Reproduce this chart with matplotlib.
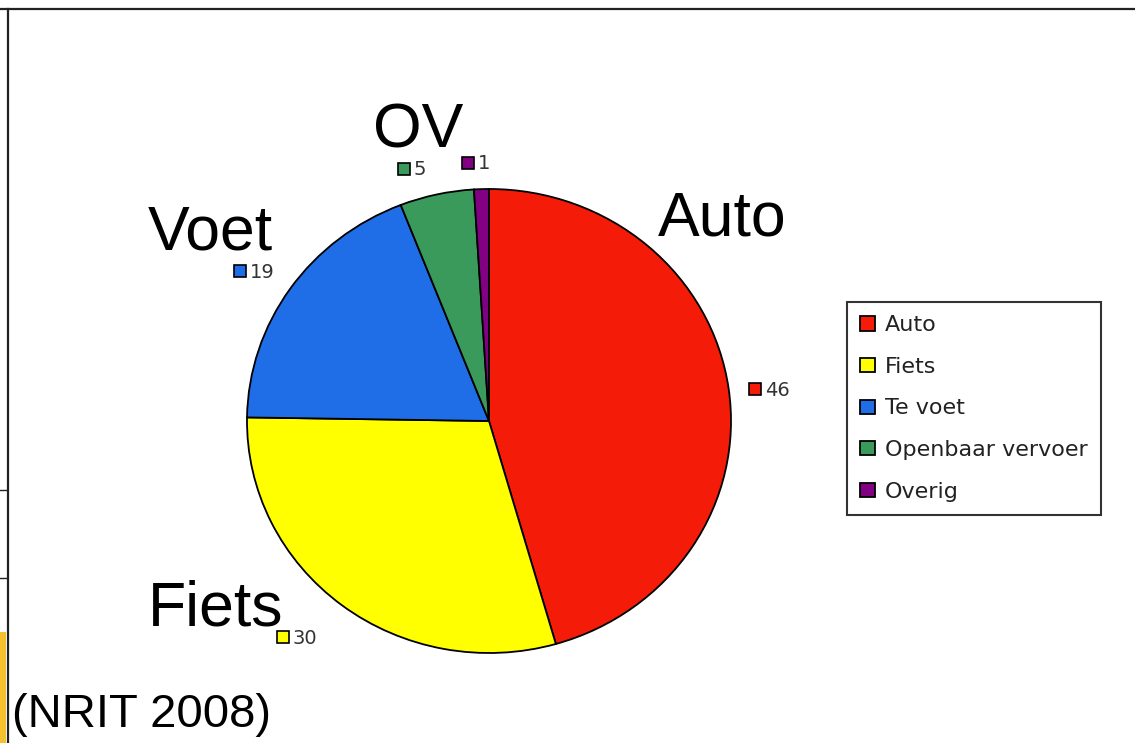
import numpy as np
import matplotlib
matplotlib.use('Agg')
import matplotlib.pyplot as plt
from matplotlib.lines import Line2D
from matplotlib.patches import Rectangle

# data
modes = ['Auto', 'Fiets', 'Te voet', 'Openbaar vervoer', 'Overig']
shares = [46, 30, 19, 5, 1]
colors = ['#f41c08', '#ffff00', '#1f6ee8', '#3a9a5c', '#820082']
big_labels = ['Auto', 'Fiets', 'Voet', 'OV']
source = '(NRIT 2008)'

W, H = 1135, 743
CX, CY = 489, 421      # pie centre in pixels
RX, RY = 242, 232      # pie radii in pixels (slightly squashed, as in the scan)

fig = plt.figure(figsize=(W / 100, H / 100), dpi=100)
fig.patch.set_facecolor('white')
ax = fig.add_axes([0, 0, 1, 1])

wedges, _ = ax.pie(shares, colors=colors, startangle=90, counterclock=False,
                   wedgeprops=dict(edgecolor='black', linewidth=1.3))
ax.set_aspect('auto')
ax.set_xlim(-CX / RX, (W - CX) / RX)
ax.set_ylim(-(H - CY) / RY, CY / RY)
ax.axis('off')

# value labels: little coloured square + number, placed round the pie
label_pos = [(6.8, 1.15), (-131.0, 1.235), (146.8, 1.18), (106.0, 1.13), (92.3, 1.115)]
for w, v, (ang, r) in zip(wedges, shares, label_pos):
    a = np.deg2rad(ang)
    x, y = r * np.cos(a), r * np.sin(a)
    ax.plot(x - 10 / RX, y, marker='s', markersize=8, markerfacecolor=w.get_facecolor(),
            markeredgecolor='black', markeredgewidth=1.2, clip_on=False)
    ax.text(x, y - 1 / RY, str(v), fontsize=14, family='DejaVu Sans', color='#333333',
            ha='left', va='center')

# legend
leg = ax.legend(wedges, modes, loc='upper left',
                bbox_to_anchor=(847 / W, 1 - 302 / H), bbox_transform=fig.transFigure,
                prop={'family': 'DejaVu Sans', 'size': 16}, frameon=True,
                fancybox=False, edgecolor='black', handlelength=0.65, handleheight=0.6,
                handletextpad=0.45, labelspacing=0.97, borderpad=0.6, borderaxespad=0)
leg.get_frame().set_linewidth(1.5)
for t in leg.get_texts():
    t.set_color('#222222')

# big annotations on the slide
txt = dict(family='Liberation Sans', fontsize=45, color='black', va='baseline')
fig.text(658 / W, 1 - 236 / H, big_labels[0], ha='left', **txt)
fig.text(148 / W, 1 - 626 / H, big_labels[1], ha='left', **txt)
fig.text(148 / W, 1 - 250 / H, big_labels[2], ha='left', **txt)
fig.text(373 / W, 1 - 147 / H, big_labels[3], ha='left', **txt)
fig.text(12 / W, 1 - 727 / H, source, ha='left', family='Liberation Sans',
         fontsize=34, color='black', va='baseline')

# slide frame and bits of the slide edge
fig.add_artist(Line2D([0, 1], [1 - 9 / H, 1 - 9 / H], color='#222222', lw=1.6))
fig.add_artist(Line2D([8 / W, 8 / W], [0, 1 - 9 / H], color='#222222', lw=1.6))
fig.add_artist(Line2D([0, 6 / W], [1 - 490 / H, 1 - 490 / H], color='#222222', lw=1))
fig.add_artist(Line2D([0, 6 / W], [1 - 578 / H, 1 - 578 / H], color='#222222', lw=1))
fig.add_artist(Rectangle((0, 0), 6 / W, 1 - 632 / H, transform=fig.transFigure,
                         facecolor='#f5c12e', edgecolor='none'))

fig.savefig('out.png', dpi=100, facecolor='white')
